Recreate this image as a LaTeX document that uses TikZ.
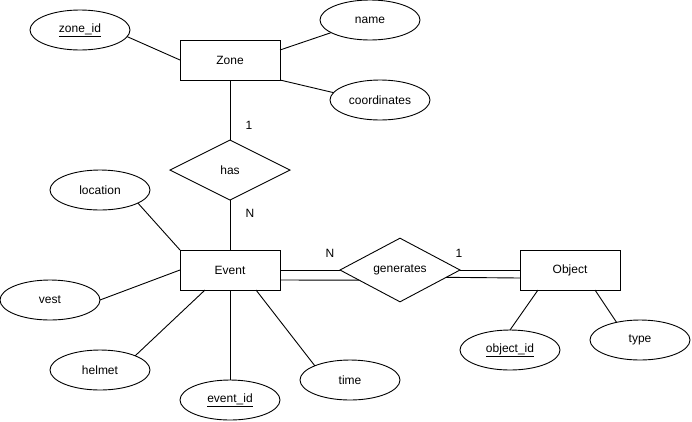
\documentclass[tikz,border=0pt]{standalone}
\usepackage{fontspec}
\setmainfont{Liberation Sans}
\usetikzlibrary{shapes.geometric}
\begin{document}
\begin{tikzpicture}[x=1pt,y=-1pt,
  every node/.style={font=\fontsize{12}{14}\selectfont},
  entity/.style={draw, line width=0.9pt, minimum width=100pt, minimum height=40pt, inner sep=0pt, outer sep=0pt},
  attr/.style={draw, ellipse, line width=0.9pt, minimum width=100pt, minimum height=40pt, inner sep=0pt, outer sep=0pt},
  rel/.style={draw, diamond, line width=0.9pt, minimum width=120pt, minimum height=60pt, inner sep=0pt, outer sep=0pt},
  link/.style={line width=0.9pt},
  card/.style={inner sep=0pt}]
\useasboundingbox[fill=white] (0,0) rectangle (692,421);

% entities
\node[entity] (zone)   at (230,60)  {Zone};
\node[entity] (event)  at (230,270) {Event};
\node[entity] (object) at (570,270) {Object};

% relationships
\node[rel] (has) at (230,170) {has};
\node[rel] (gen) at (400,270) {generates};

% attributes
\node[attr] (zoneid) at (80,30)   {\underline{zone\_id}};
\node[attr] (name)   at (370,20)  {name};
\node[attr] (coord)  at (380,100) {coordinates};
\node[attr] (loc)    at (100,190) {location};
\node[attr] (vest)   at (50,300)  {vest};
\node[attr] (helmet) at (100,370) {helmet};
\node[attr] (evid)   at (230,400) {\underline{event\_id}};
\node[attr] (time)   at (350,380) {time};
\node[attr] (objid)  at (510,350) {\underline{object\_id}};
\node[attr] (type)   at (640,340) {type};

% zone attributes
\draw[link] (zone.west) -- (zoneid.-8);
\draw[link] ([yshift=10pt]zone.east) -- (name.198);
\draw[link] (zone.south east) -- (coord.171);

% zone -- has -- event
\draw[link] (zone.south) -- (has.north);
\draw[link] (has.south) -- (event.north);

% event attributes
\draw[link] (event.north west) -- (loc.-19.4);
\draw[link] (event.west) -- (vest.east);
\draw[link] ([xshift=-25pt]event.south) -- (helmet.22);
\draw[link] (event.south) -- (evid.north);
\draw[link] ([xshift=26pt]event.south) -- (time.158);

% event == generates == object (double links)
\draw[link] (event.east) -- (gen.west);
\draw[link] ([yshift=-10pt]event.east) -- (gen.194);
\draw[link] (gen.east) -- (object.west);
\draw[link] (gen.-9.5) -- ([yshift=-8pt]object.west);

% object attributes
\draw[link] ([xshift=-32pt]object.south) -- (objid.north);
\draw[link] ([xshift=25pt]object.south) -- (type.143.5);

% cardinalities
\node[card] (c1) at (249,125) {1};
\node[card] (c2) at (250,213) {N};
\node[card] (c3) at (330,253) {N};
\node[card] (c4) at (459,253) {1};
\end{tikzpicture}
\end{document}
